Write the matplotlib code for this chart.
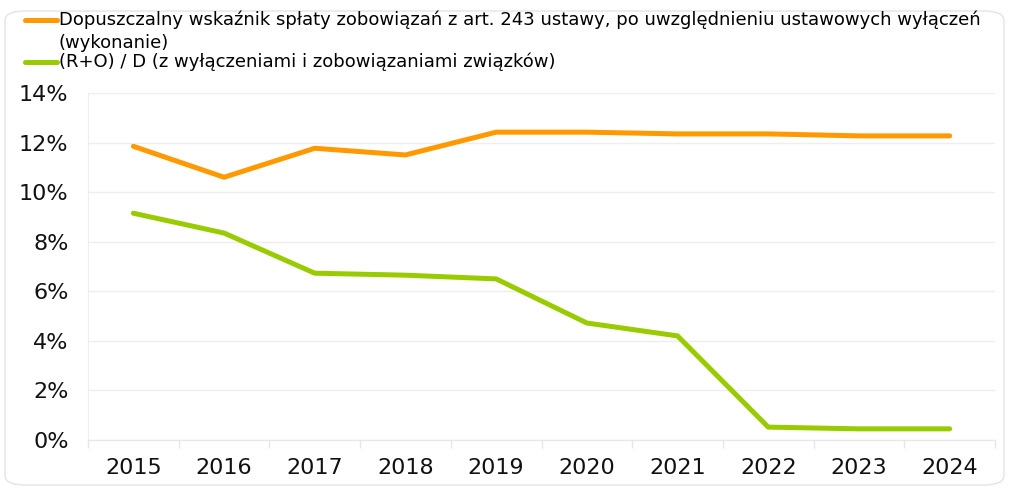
import matplotlib
matplotlib.use("Agg")
import matplotlib.pyplot as plt
from matplotlib.lines import Line2D
from matplotlib.patches import FancyBboxPatch
import numpy as np

years = ["2015", "2016", "2017", "2018", "2019", "2020", "2021", "2022", "2023", "2024"]
dopuszczalny = [11.85, 10.6, 11.77, 11.5, 12.42, 12.42, 12.35, 12.35, 12.27, 12.27]
ro_d = [9.15, 8.35, 6.73, 6.65, 6.5, 4.72, 4.2, 0.52, 0.45, 0.45]
labels = ["Dopuszczalny wskaźnik spłaty zobowiązań z art. 243 ustawy, po uwzględnieniu ustawowych wyłączeń\n(wykonanie)",
          "(R+O) / D (z wyłączeniami i zobowiązaniami związków)"]
colors = ["#FF9900", "#99CC00"]
yticks = [0, 2, 4, 6, 8, 10, 12, 14]

W, H = 1011, 488
fig = plt.figure(figsize=(W / 100, H / 100), dpi=100)
ax = fig.add_axes([88 / W, 1 - 440 / H, (995 - 88) / W, (440 - 93) / H])

x = np.arange(len(years))
ax.plot(x, dopuszczalny, color=colors[0], lw=3.6, solid_capstyle="round", solid_joinstyle="round")
ax.plot(x, ro_d, color=colors[1], lw=3.6, solid_capstyle="round", solid_joinstyle="round")

ax.set_xlim(-0.5, len(years) - 0.5)
ax.set_ylim(0, 14)
ax.set_yticks(yticks)
ax.set_yticklabels([f"{v}%" for v in yticks], fontsize=16, color="#111111")
ax.set_xticks(np.arange(-0.5, len(years), 1.0))
ax.set_xticklabels([])
ax.set_xticks(x, minor=True)
ax.set_xticklabels(years, minor=True, fontsize=16, color="#111111")
ax.tick_params(axis="x", which="major", length=6, color="#e6e6e6", width=1)
ax.tick_params(axis="x", which="minor", length=0, pad=13)
ax.tick_params(axis="y", length=0, pad=14)
ax.grid(axis="y", color="#eeeeee", lw=1)
ax.set_axisbelow(True)
for s in ["top", "right"]:
    ax.spines[s].set_visible(False)
ax.spines["left"].set_color("#eeeeee")
ax.spines["bottom"].set_color("#e6e6e6")

# background frame
fig.patches.append(FancyBboxPatch((5 / W, 3 / H), (W - 12) / W, (H - 14) / H,
                                  boxstyle="round,pad=0,rounding_size=0.02",
                                  transform=fig.transFigure, fill=False,
                                  edgecolor="#e4e4e4", lw=1, zorder=0))

# legend (manual)
lf = ["Liberation Sans Narrow", "DejaVu Sans"]
entries_y = [20, 62]
line_gap = 23
for lab, c, yy in zip(labels, colors, entries_y):
    fig.add_artist(Line2D([25 / W, 57 / W], [1 - yy / H, 1 - yy / H], color=c, lw=3.6,
                          solid_capstyle="round", transform=fig.transFigure))
    for i, part in enumerate(lab.split("\n")):
        fig.text(59 / W, 1 - (yy + i * line_gap) / H, part, fontsize=13, family=lf,
                 va="center", ha="left", color="#000000")

fig.savefig("out.png", dpi=100)
